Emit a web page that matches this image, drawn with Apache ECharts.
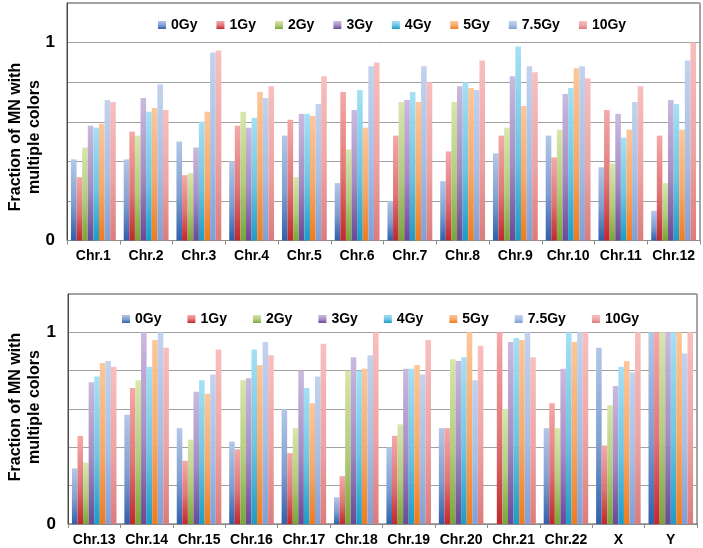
<!DOCTYPE html>
<html>
<head>
<meta charset="utf-8">
<script src="https://cdn.jsdelivr.net/npm/echarts@6/dist/echarts.min.js"></script>
<style>
html,body{margin:0;padding:0;background:#fff;}
#c{width:703px;height:548px;}
</style>
</head>
<body>
<div id="c"></div>
<script>
const doses = ['0Gy','1Gy','2Gy','3Gy','4Gy','5Gy','7.5Gy','10Gy'];
const chrTop = ['Chr.1','Chr.2','Chr.3','Chr.4','Chr.5','Chr.6','Chr.7','Chr.8','Chr.9','Chr.10','Chr.11','Chr.12'];
const chrBottom = ['Chr.13','Chr.14','Chr.15','Chr.16','Chr.17','Chr.18','Chr.19','Chr.20','Chr.21','Chr.22','X','Y'];
const yTickLabels = ['0','1'];

const top0Gy  = [0.41, 0.41, 0.50, 0.40, 0.53, 0.29, 0.20, 0.30, 0.44, 0.53, 0.37, 0.15];
const top1Gy  = [0.32, 0.55, 0.33, 0.58, 0.61, 0.75, 0.53, 0.45, 0.53, 0.42, 0.66, 0.53];
const top2Gy  = [0.47, 0.53, 0.34, 0.65, 0.32, 0.46, 0.70, 0.70, 0.57, 0.56, 0.39, 0.29];
const top3Gy  = [0.58, 0.72, 0.47, 0.57, 0.64, 0.66, 0.71, 0.78, 0.83, 0.74, 0.64, 0.71];
const top4Gy  = [0.57, 0.65, 0.60, 0.62, 0.64, 0.76, 0.75, 0.80, 0.98, 0.77, 0.52, 0.69];
const top5Gy  = [0.59, 0.67, 0.65, 0.75, 0.63, 0.57, 0.70, 0.77, 0.68, 0.87, 0.56, 0.56];
const top75Gy = [0.71, 0.79, 0.95, 0.72, 0.69, 0.88, 0.88, 0.76, 0.88, 0.88, 0.70, 0.91];
const top10Gy = [0.70, 0.66, 0.96, 0.78, 0.83, 0.90, 0.80, 0.91, 0.85, 0.82, 0.78, 1.00];

const bot0Gy  = [0.29, 0.57, 0.50, 0.43, 0.60, 0.14, 0.40, 0.50, 0.00, 0.50, 0.92, 1.00];
const bot1Gy  = [0.46, 0.71, 0.33, 0.39, 0.37, 0.25, 0.46, 0.50, 1.00, 0.63, 0.41, 1.00];
const bot2Gy  = [0.32, 0.75, 0.44, 0.75, 0.50, 0.80, 0.52, 0.86, 0.60, 0.50, 0.62, 1.00];
const bot3Gy  = [0.74, 1.00, 0.69, 0.76, 0.80, 0.87, 0.81, 0.85, 0.95, 0.81, 0.72, 1.00];
const bot4Gy  = [0.77, 0.82, 0.75, 0.91, 0.71, 0.80, 0.81, 0.87, 0.97, 1.00, 0.82, 1.00];
const bot5Gy  = [0.84, 0.96, 0.68, 0.83, 0.63, 0.81, 0.83, 1.00, 0.96, 0.95, 0.85, 1.00];
const bot75Gy = [0.85, 1.00, 0.78, 0.95, 0.77, 0.88, 0.78, 0.75, 1.00, 1.00, 0.79, 0.89];
const bot10Gy = [0.82, 0.92, 0.91, 0.88, 0.94, 1.00, 0.96, 0.93, 0.87, 1.00, 1.00, 1.00];

const topSeries = [top0Gy, top1Gy, top2Gy, top3Gy, top4Gy, top5Gy, top75Gy, top10Gy];
const botSeries = [bot0Gy, bot1Gy, bot2Gy, bot3Gy, bot4Gy, bot5Gy, bot75Gy, bot10Gy];

const lightColors = ['#b4c7e8','#f4a9a8','#d8e6ab','#cbbadf','#a6e0f5','#fcc79a','#c3d3ee','#f8bfbf'];
const darkColors  = ['#2f60ac','#c2272d','#7aa53a','#6a4896','#1b9cc7','#ef7b1d','#7f9fd6','#dc7b7b'];

function grad(i){
  return new echarts.graphic.LinearGradient(0,0,0,1,[
    {offset:0,color:lightColors[i]},
    {offset:0.55,color:echarts.color.lerp(0.4,[lightColors[i],darkColors[i]])},
    {offset:1,color:darkColors[i]}
  ]);
}

const chart = echarts.init(document.getElementById('c'));
const grids = [
  {left:67, right:3, top:3, height:237.5, show:true, borderColor:'#4a4a4a', borderWidth:1},
  {left:68, right:6, top:294, height:230, show:true, borderColor:'#4a4a4a', borderWidth:1}
];
function xAx(idx, cats){
  return {type:'category', gridIndex:idx, data:cats,
    axisLine:{lineStyle:{color:'#8c8c8c',width:1}},
    axisTick:{show:true,length:4,lineStyle:{color:'#8c8c8c'}},
    axisLabel:{color:'#000',fontFamily:'Liberation Sans, Arial',fontWeight:'bold',fontSize:14,margin:9,interval:0}
  };
}
function yAx(idx){
  return {type:'value', gridIndex:idx, min:0, max:1.2, interval:0.2,
    axisLine:{show:true,lineStyle:{color:'#4a4a4a',width:1}},
    axisTick:{show:false},
    splitLine:{lineStyle:{color:'#a0a0a0',width:1}},
    axisLabel:{color:'#000',fontFamily:'Liberation Sans, Arial',fontWeight:'bold',fontSize:17,margin:12,
      formatter:function(v){ if(Math.abs(v)<1e-6) return yTickLabels[0]; if(Math.abs(v-1)<1e-6) return yTickLabels[1]; return ''; }}
  };
}
const series = [];
[topSeries, botSeries].forEach(function(arr, g){
  arr.forEach(function(vals, i){
    series.push({name:doses[i], type:'bar', xAxisIndex:g, yAxisIndex:g, data:vals,
      barGap:'0%', barCategoryGap:'15%',
      itemStyle:{color:grad(i)}, emphasis:{disabled:true}, animation:false});
  });
});
const legendText = {color:'#000',fontFamily:'Liberation Sans, Arial',fontWeight:'bold',fontSize:14};
function legendData(){
  return doses.map(function(d,i){ return {name:d, itemStyle:{color:grad(i)}}; });
}
chart.setOption({
  animation:false,
  grid:grids,
  xAxis:[xAx(0,chrTop), xAx(1,chrBottom)],
  yAxis:[yAx(0), yAx(1)],
  legend:[
    {data:legendData(), left:153, top:13, itemWidth:8, itemHeight:8, itemGap:19, icon:'rect', textStyle:legendText, selectedMode:false},
    {data:legendData(), left:117, top:307, itemWidth:8, itemHeight:8, itemGap:26, icon:'rect', textStyle:legendText, selectedMode:false}
  ],
  graphic:[
    {type:'text', x:25, y:137, rotation:Math.PI/2, style:{text:'Fraction of MN with\nmultiple colors', fill:'#000', font:'bold 16px "Liberation Sans", Arial', align:'center', verticalAlign:'middle', lineHeight:19}},
    {type:'text', x:25, y:407, rotation:Math.PI/2, style:{text:'Fraction of MN with\nmultiple colors', fill:'#000', font:'bold 16px "Liberation Sans", Arial', align:'center', verticalAlign:'middle', lineHeight:19}}
  ],
  series:series
});
</script>
</body>
</html>
